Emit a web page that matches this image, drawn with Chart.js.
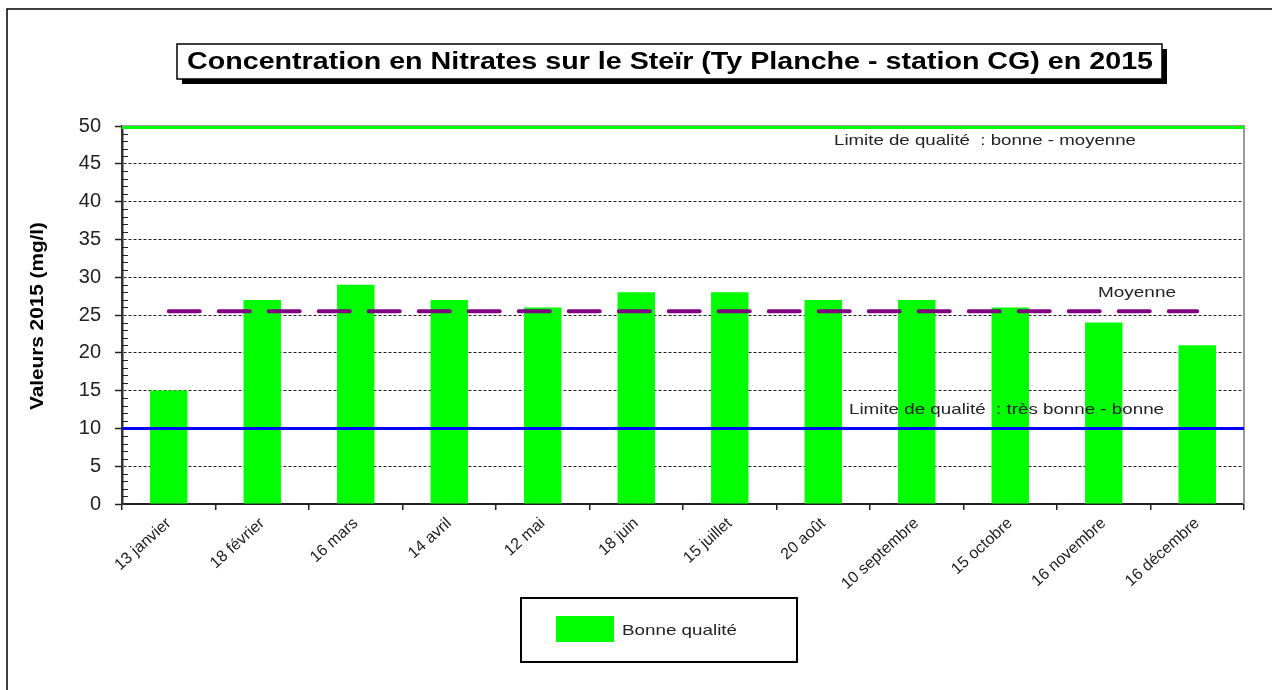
<!DOCTYPE html>
<html>
<head>
<meta charset="utf-8">
<script src="https://cdn.jsdelivr.net/npm/chart.js@4/dist/chart.umd.min.js"></script>
<style>
  html, body { margin: 0; padding: 0; background: #fff; }
  #wrap { width: 1272px; height: 690px; position: relative; }
</style>
</head>
<body>
<div id="wrap"><canvas id="chart-nitrates"></canvas></div>
<script>
  // prélèvements 2015
  const dates = [
    "13 janvier", "18 février", "16 mars", "14 avril", "12 mai", "18 juin",
    "15 juillet", "20 août", "10 septembre", "15 octobre", "16 novembre", "16 décembre",
  ];
  const nitrates = [15, 27, 29, 27, 26, 28, 28, 27, 27, 26, 24, 21];
  const moyenne = 25.5;
  const limiteTresBonneBonne = 10;
  const limiteBonneMoyenne = 50;
  const yTicks = [0, 5, 10, 15, 20, 25, 30, 35, 40, 45, 50];

  const FONT = "'Liberation Sans', Arial, sans-serif";
  const titre = "Concentration en Nitrates sur le Steïr (Ty Planche - station CG) en 2015";

  // texte étiré horizontalement (l'original est un export élargi)
  function stretchText(ctx, txt, x, y, width) {
    const w = ctx.measureText(txt).width;
    ctx.save();
    ctx.translate(x, y);
    ctx.scale(width / w, 1);
    ctx.fillText(txt, 0, 0);
    ctx.restore();
  }

  const decorPlugin = {
    id: "decor",
    beforeDraw: function (chart) {
      const ctx = chart.ctx;
      ctx.save();
      // cadre extérieur (haut + gauche)
      ctx.strokeStyle = "#000";
      ctx.lineWidth = 1.5;
      ctx.beginPath();
      ctx.moveTo(7, 690);
      ctx.lineTo(7, 9);
      ctx.lineTo(1272, 9);
      ctx.stroke();
      // titre avec ombre
      const bx = 177, by = 44, bw = 985, bh = 35;
      ctx.fillStyle = "#000";
      ctx.fillRect(bx + 5, by + 5, bw, bh);
      ctx.fillStyle = "#fff";
      ctx.fillRect(bx, by, bw, bh);
      ctx.lineWidth = 1.5;
      ctx.strokeRect(bx, by, bw, bh);
      ctx.fillStyle = "#000";
      ctx.font = "bold 23px " + FONT;
      ctx.textAlign = "left";
      ctx.textBaseline = "middle";
      stretchText(ctx, titre, 187, by + bh / 2 + 1, 966);
      ctx.restore();
    },
    afterDatasetsDraw: function (chart) {
      const ctx = chart.ctx;
      const area = chart.chartArea;
      const y = chart.scales.y;
      const bars = chart.data.datasets[1];
      ctx.save();
      // bord droit et haut de la zone de tracé
      ctx.strokeStyle = "#999";
      ctx.lineWidth = 2;
      ctx.beginPath();
      ctx.moveTo(area.left, area.top);
      ctx.lineTo(area.right, area.top);
      ctx.lineTo(area.right, area.bottom);
      ctx.stroke();
      // graduations secondaires
      ctx.strokeStyle = "#222";
      ctx.lineWidth = 1;
      for (let v = 0; v <= 50; v++) {
        if (v % 5 === 0) continue;
        const py = Math.round(y.getPixelForValue(v)) + 0.5;
        ctx.beginPath();
        ctx.moveTo(area.left, py);
        ctx.lineTo(area.left + 6, py);
        ctx.stroke();
      }
      // limites de qualité
      const yBleu = y.getPixelForValue(limiteTresBonneBonne);
      ctx.strokeStyle = "#0000ff";
      ctx.lineWidth = 3;
      ctx.beginPath();
      ctx.moveTo(area.left, yBleu);
      ctx.lineTo(area.right, yBleu);
      ctx.stroke();
      const yVert = y.getPixelForValue(limiteBonneMoyenne) + 1.5;
      ctx.strokeStyle = "#00ff00";
      ctx.lineWidth = 3;
      ctx.beginPath();
      ctx.moveTo(area.left, yVert);
      ctx.lineTo(area.right, yVert);
      ctx.stroke();
      // annotations
      ctx.fillStyle = "#222";
      ctx.font = "15px " + FONT;
      ctx.textAlign = "left";
      ctx.textBaseline = "middle";
      stretchText(ctx, "Limite de qualité  : bonne - moyenne", 834, y.getPixelForValue(limiteBonneMoyenne) + 15, 302);
      stretchText(ctx, "Moyenne", 1098, y.getPixelForValue(moyenne) - 18, 78);
      stretchText(ctx, "Limite de qualité  : très bonne - bonne", 849, yBleu - 19, 315);
      // titre de l'axe Y
      ctx.save();
      ctx.translate(38, 316);
      ctx.rotate(-Math.PI / 2);
      ctx.font = "bold 19px " + FONT;
      ctx.fillStyle = "#000";
      const yt = "Valeurs 2015 (mg/l)";
      stretchText(ctx, yt, -94, 0, 188);
      ctx.restore();
      // légende
      ctx.strokeStyle = "#000";
      ctx.lineWidth = 2;
      ctx.strokeRect(521, 598, 276, 64);
      ctx.fillStyle = bars.backgroundColor;
      ctx.fillRect(556, 616, 58, 26);
      ctx.fillStyle = "#222";
      ctx.font = "15px " + FONT;
      stretchText(ctx, bars.label, 622, 631, 115);
      ctx.restore();
    },
  };

  const config = {
    type: "bar",
    data: {
      labels: dates,
      datasets: [
        {
          type: "line",
          label: "Moyenne",
          data: dates.map(() => moyenne),
          borderColor: "#800080",
          borderWidth: 4,
          borderDash: [31, 19],
          borderCapStyle: "round",
          pointRadius: 0,
          fill: false,
          order: 0,
        },
        {
          label: "Bonne qualité",
          data: nitrates,
          backgroundColor: "#00ff00",
          borderWidth: 0,
          barPercentage: 0.4,
          categoryPercentage: 1,
          order: 1,
        },
      ],
    },
    options: {
      responsive: false,
      animation: false,
      devicePixelRatio: 1,
      layout: { padding: { left: 0, top: 126, right: 28, bottom: 0 } },
      plugins: {
        legend: { display: false },
        title: { display: false },
        tooltip: { enabled: false },
      },
      scales: {
        x: {
          afterFit: function (scale) {
            scale.height = 186;
          },
          grid: {
            offset: true,
            drawOnChartArea: false,
            tickLength: 6,
            tickColor: "#222",
            lineWidth: 1.5,
          },
          border: { display: true, color: "#222", width: 2 },
          ticks: {
            minRotation: 42,
            maxRotation: 42,
            padding: 4,
            color: "#222",
            font: { family: FONT, size: 16 },
          },
        },
        y: {
          min: 0,
          max: 50,
          afterFit: function (scale) {
            scale.width = 122;
          },
          afterBuildTicks: function (scale) {
            scale.ticks = yTicks.map((v) => ({ value: v }));
          },
          grid: {
            color: "#222",
            lineWidth: 1,
            tickLength: 7,
            tickColor: "#222",
            tickWidth: 1.5,
          },
          border: { display: true, color: "#333", width: 2.5, dash: [3, 2] },
          ticks: {
            padding: 14,
            color: "#222",
            font: { family: FONT, size: 20 },
          },
        },
      },
    },
    plugins: [decorPlugin],
  };

  const canvas = document.getElementById("chart-nitrates");
  canvas.width = 1272;
  canvas.height = 690;
  const chartNitrates = new Chart(canvas, config);
</script>
</body>
</html>
